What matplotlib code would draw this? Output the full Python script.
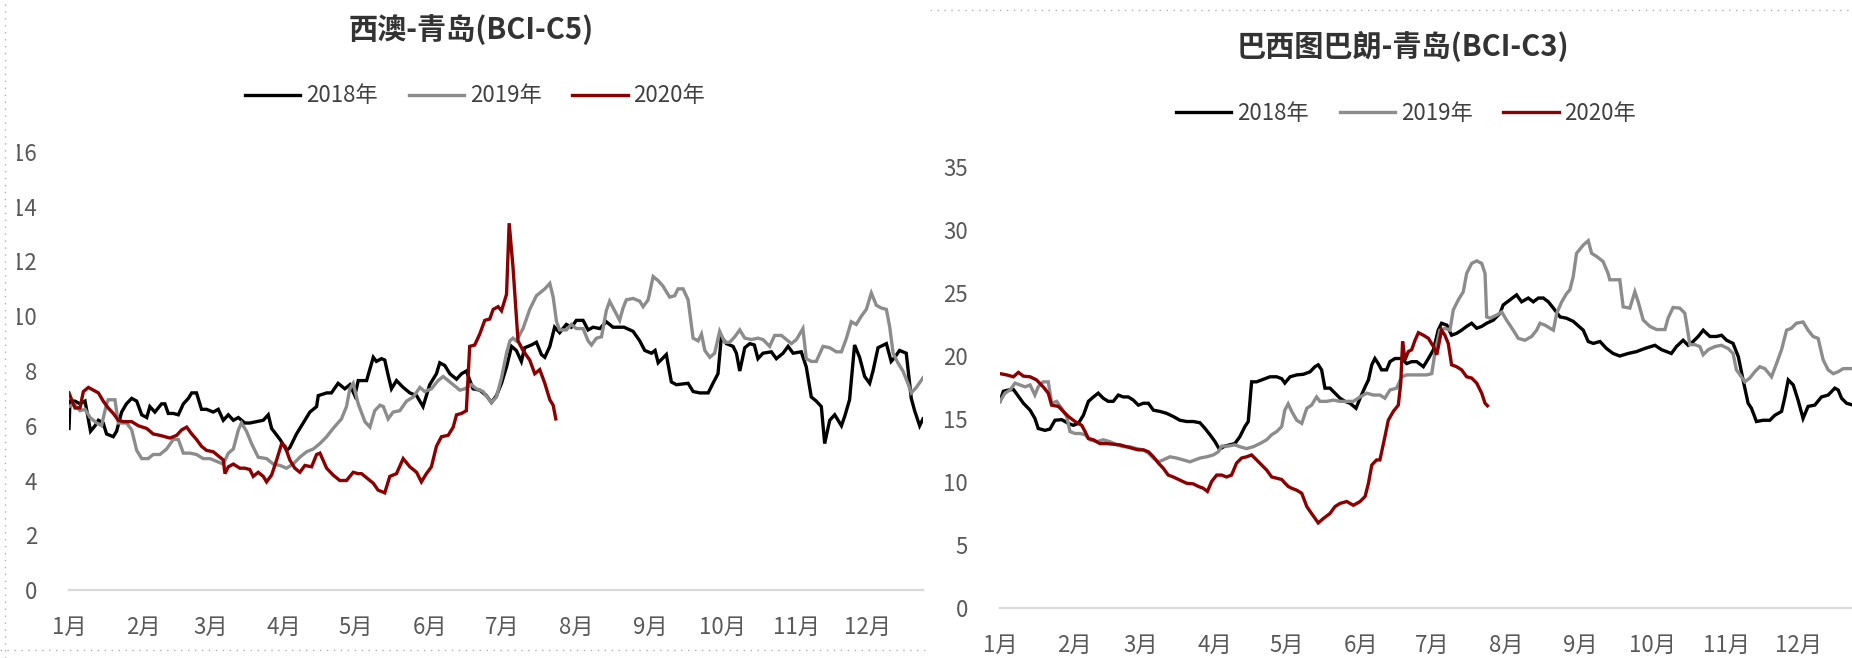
import matplotlib
matplotlib.use("Agg")
import matplotlib.pyplot as plt
from matplotlib.lines import Line2D
from matplotlib.patches import Rectangle

plt.rcParams['font.family'] = ['Noto Sans CJK SC', 'DejaVu Sans']

# x values are day of year (0 = 1 Jan)
month_days = [0, 31, 59, 90, 120, 151, 181, 212, 243, 273, 304, 334]
month_labels = ['1月', '2月', '3月', '4月', '5月', '6月', '7月', '8月', '9月', '10月', '11月', '12月']
series_names = ['2018年', '2019年', '2020年']
series_colors = ['#000000', '#8c8c8c', '#8b0000']

# 西澳-青岛 (BCI-C5)
c5_2018_x = [0, 0.4, 2.5, 4.6, 6.7, 9, 10.9, 12.3, 14.3, 15.7, 18.5, 19.9, 22, 24, 26.2, 28.3, 30.4, 32.5, 33.8, 35.9,
             38.7, 40.1, 41.5, 43.6, 45.7, 47.8, 49.9, 51.3, 53.3, 55.4, 57.5, 60.3, 62.4, 64.5, 66.6, 68.7, 70.8, 73.5,
             75.6, 78.4, 81.2, 83.3, 84.7, 88.2, 91, 92.3, 95.1, 97.9, 100.7, 103.5, 104.2, 107.7, 109.7, 112.5, 115.3,
             117.4, 119.5, 120.9, 124.4, 127.2, 128.5, 130.6, 132, 133.4, 134.8, 136.9, 139.7, 142.5, 145.3, 148,
             150.8, 153.6, 155, 157.1, 159.2, 162, 164.1, 166.1, 168.9, 171.7, 174.5, 176.6, 178.7, 180.8, 182.9, 185,
             187, 189.1, 190.5, 193.3, 195.4, 197.5, 198.9, 201, 203, 205.1, 207.9, 210, 212.1, 214.9, 217, 219.1,
             221.9, 224.6, 227.4, 232, 235.8, 238.6, 240.7, 243.5, 245, 246.3, 249.7, 251.8, 253.9, 258.8, 260.9,
             263.7, 267.2, 269.2, 271.3, 272.7, 274.8, 277.6, 279, 280.4, 282.5, 284.6, 286.5, 288, 290.1, 293.6,
             295.7, 298.5, 300.6, 302.7, 306.1, 308.2, 310.3, 312.4, 314.5, 315.9, 318, 320.1, 322.9, 324.3, 326.3,
             328.4, 330.5, 332.6, 334.7, 336.1, 338.2, 341.7, 343.7, 345.2, 347.2, 350, 352.1, 353.5, 355.6, 357]
c5_2018_y = [5.9, 6.9, 6.9, 6.8, 6.9, 5.8, 6.0, 6.2, 6.1, 5.7, 5.6, 5.8, 6.5, 6.8, 7.0, 6.9, 6.4, 6.3, 6.7, 6.5,
             6.8, 6.8, 6.45, 6.45, 6.4, 6.8, 7.0, 7.2, 7.2, 6.6, 6.6, 6.5, 6.6, 6.2, 6.4, 6.2, 6.3, 6.1,
             6.1, 6.15, 6.2, 6.4, 5.9, 5.5, 5.1, 5.2, 5.7, 6.1, 6.5, 6.7, 7.1, 7.2, 7.2, 7.55, 7.35,
             7.5, 7.1, 7.65, 7.65, 8.5, 8.35, 8.45, 8.4, 7.85, 7.35, 7.65, 7.4, 7.2, 7.1, 6.7,
             7.5, 7.9, 8.3, 8.2, 7.9, 7.7, 7.9, 8.0, 7.35, 7.3, 7.1, 6.85, 7.1, 7.55, 8.15, 8.9,
             8.75, 8.35, 8.85, 8.95, 9.05, 8.6, 8.5, 8.9, 9.6, 9.4, 9.7, 9.6, 9.85, 9.85, 9.5, 9.6,
             9.55, 9.8, 9.6, 9.6, 9.45, 9.1, 8.75, 8.65, 8.75, 8.3, 8.6, 7.6, 7.5, 7.55, 7.25,
             7.2, 7.2, 7.55, 7.9, 9.25, 9.0, 8.9, 8.65, 8.0, 8.85, 9.0, 8.95, 8.45, 8.65, 8.7,
             8.45, 8.65, 8.9, 8.65, 8.7, 8.15, 7.05, 6.9, 6.7, 5.35, 6.2, 6.4, 6.0, 6.35, 6.95,
             8.95, 8.5, 7.8, 7.55, 8.0, 8.85, 9.0, 8.35, 8.5, 8.75, 8.65, 7.0, 6.55, 6.0, 6.25]

c5_2019_x = [0, 2.1, 4.6, 6.7, 8.8, 11.6, 13.6, 15.7, 16.4, 19.2, 20.6, 24.1, 26.2, 28.3, 30.4, 33.1, 35.2, 38, 40.8,
             43.6, 45.7, 47.8, 50.6, 53.3, 56.1, 58.9, 61.7, 64.5, 66.6, 68.7, 70.8, 72.1, 74.2, 76.3, 79.1, 82.6,
             85.4, 88.2, 90.9, 93.7, 96.5, 99.3, 102.1, 104.9, 107.7, 110.4, 113.9, 116, 117.4, 118.8, 120.9, 123.7,
             125.8, 127.8, 130, 131.4, 133.4, 135.5, 138.3, 141.1, 143.9, 146.7, 148.7, 151.5, 154.3, 156.4, 158.5,
             160.6, 163.4, 165.5, 168.2, 170.3, 173.1, 176.6, 178.7, 180.8, 182.9, 184.3, 185.6, 187, 189.8, 192.6,
             195.4, 198.9, 201, 202.4, 203.8, 205.1, 207.9, 210, 212.1, 214.9, 217, 218.4, 220.5, 222.6, 224.6, 226,
             228.1, 230.2, 231.6, 233, 235.8, 238.6, 240, 242.1, 244.2, 246.3, 248.3, 251.1, 253.2, 254.6, 256.7,
             258.8, 260.9, 263, 264.4, 265.8, 267.9, 269.9, 272, 274.1, 276.2, 278.3, 280.4, 282.5, 285.3, 288,
             290.1, 292.9, 295, 297.8, 299.9, 302, 304.1, 306.8, 308.2, 310.3, 312.4, 315.2, 318, 320.8, 322.9, 325,
             327, 329.1, 331.2, 333.3, 335.4, 337.5, 339.6, 341.7, 343.1, 344.5, 346.5, 348.6, 350.7, 352.1, 354.2, 357]
c5_2019_y = [6.7, 6.8, 6.55, 6.6, 6.3, 6.1, 6.0, 6.8, 6.95, 6.95, 6.1, 6.1, 5.85, 5.1, 4.8, 4.8, 4.95, 4.95, 5.15,
             5.5, 5.5, 5.0, 5.0, 4.95, 4.8, 4.8, 4.7, 4.6, 5.0, 5.15, 5.85, 6.1, 5.8, 5.35, 4.85, 4.8,
             4.6, 4.55, 4.45, 4.6, 4.85, 5.05, 5.15, 5.35, 5.6, 5.9, 6.25, 6.7, 7.35, 7.55, 6.8, 6.15,
             5.95, 6.55, 6.75, 6.7, 6.25, 6.5, 6.55, 6.9, 7.05, 7.4, 7.25, 7.35, 7.65, 7.8, 7.65,
             7.5, 7.3, 7.35, 7.5, 7.35, 7.25, 6.85, 7.05, 7.75, 8.65, 9.1, 9.2, 9.1, 9.55, 10.25,
             10.75, 11.0, 11.2, 10.7, 9.8, 9.5, 9.5, 9.7, 9.55, 9.55, 9.1, 8.95, 9.2, 9.25, 10.2, 10.55,
             10.2, 9.85, 10.3, 10.6, 10.65, 10.55, 10.35, 10.6, 11.45, 11.3, 11.1, 10.7, 10.75, 11.0, 11.0,
             10.6, 9.2, 9.1, 9.35, 8.75, 8.5, 8.65, 9.45, 9.05, 9.05, 9.25, 9.5, 9.2, 9.15, 9.2,
             9.15, 8.9, 9.3, 9.3, 9.15, 9.0, 9.15, 9.55, 8.45, 8.35, 8.35, 8.9, 8.85, 8.7, 8.7, 9.2,
             9.8, 9.7, 10.0, 10.25, 10.85, 10.4, 10.3, 10.25, 9.6, 8.65, 8.3, 8.0, 7.55, 7.2, 7.4, 7.75]

c5_2020_x = [0, 1.1, 2.5, 4.6, 6, 8.1, 10.2, 12.3, 14.3, 16.4, 18.5, 20.6, 22.7, 26.2, 29, 32.5, 35.2, 38, 40.1, 42.2,
             45, 47.1, 49.2, 51.3, 53.3, 55.4, 57.5, 60.3, 63.1, 64.5, 65.2, 66.6, 68.7, 71.4, 73.5, 75.6, 77, 79.1,
             81.2, 82.6, 84.7, 86.8, 88.9, 90.3, 92.3, 94.4, 96.5, 98.6, 101.4, 103.5, 104.9, 107.7, 110.4, 113.2,
             116, 118.8, 120.9, 122.3, 125.1, 127.2, 129.2, 132, 134.1, 136.9, 139.7, 142.5, 145.3, 147.3, 149.4,
             151.5, 153.6, 155.7, 158.5, 160.6, 162, 164.1, 166.1, 167.5, 169.6, 171.7, 173.8, 175.9, 177.3, 179.4,
             180.8, 182.2, 182.9, 184, 185.6, 187.7, 189.8, 192.6, 194.7, 196.8, 198.9, 201, 202.4, 203.5]
c5_2020_y = [7.2, 6.95, 6.65, 6.65, 7.25, 7.4, 7.3, 7.2, 6.9, 6.65, 6.45, 6.2, 6.15, 6.15, 6.0, 5.9, 5.7, 5.65, 5.6, 5.55,
             5.65, 5.85, 5.95, 5.7, 5.5, 5.25, 5.1, 5.05, 4.85, 4.75, 4.25, 4.5, 4.6, 4.45, 4.45, 4.4, 4.15, 4.3,
             4.15, 3.95, 4.2, 4.75, 5.35, 5.25, 4.75, 4.45, 4.3, 4.55, 4.5, 4.95, 5.0, 4.45, 4.2, 4.0,
             4.0, 4.3, 4.25, 4.25, 4.05, 3.9, 3.65, 3.55, 4.15, 4.25, 4.8, 4.5, 4.3, 3.95, 4.25,
             4.5, 5.25, 5.6, 5.65, 5.95, 6.4, 6.45, 6.55, 8.9, 8.95, 9.35, 9.85, 9.9, 10.25, 10.35,
             10.2, 10.6, 10.8, 13.4, 11.8, 9.1, 8.75, 8.4, 7.9, 8.05, 7.55, 6.95, 6.75, 6.25]

# 巴西图巴朗-青岛 (BCI-C3)
c3_2018_x = [0, 1.4, 3.5, 5.6, 7.7, 9.8, 12.6, 14.6, 16, 18.8, 20.9, 23, 25.8, 28.6, 30.7, 32.8, 34.9, 37, 39.1, 41.1,
             43.2, 45.3, 47.4, 49.5, 51.6, 53.7, 55.8, 57.9, 60, 62.1, 64.2, 67, 69.7, 72.5, 75.3, 78.1, 80.9, 83.7,
             85.8, 87.9, 90, 91.8, 94.1, 96.2, 98.3, 100.4, 102.5, 103.9, 105.3, 107.4, 110.2, 113, 115.8, 117.9,
             119.2, 121.4, 124.2, 127, 129.8, 131.8, 133.2, 134.6, 136, 138.1, 140.2, 142.3, 144.4, 146.5, 149,
             150.7, 152.8, 154.2, 155.6, 156.9, 158.3, 159.7, 161.8, 163.2, 165.3, 168.1, 170.2, 172.3, 174.4, 177.2,
             179.3, 181.4, 183.4, 184.8, 187, 189, 191.1, 193.2, 195.3, 197.4, 199.5, 201.6, 203.7, 206.5, 209.3,
             210.6, 213.4, 216.2, 218.3, 221.1, 223.2, 225.3, 227.4, 229.5, 231.6, 234.4, 237.1, 239.9, 242, 244.1,
             246.2, 248.3, 251.1, 253.8, 256.6, 259.4, 262.9, 266.4, 269.9, 274.1, 276.9, 278.9, 281, 283.1, 285.9,
             288, 290.1, 292.2, 294.3, 295.7, 297.1, 299.9, 302, 304.1, 306.8, 309, 311, 313.1, 314.5, 316.6, 319.4,
             322.2, 324.3, 327.1, 328.5, 329.9, 332, 334, 336.1, 338.2, 341, 343.8, 346.6, 349.4, 350.8, 352.2,
             354.3, 357]
c3_2018_y = [16.4, 17.2, 17.3, 17.35, 16.8, 16.25, 15.7, 15.05, 14.25, 14.1, 14.2, 14.9, 14.95, 14.65, 14.5, 14.65,
             15.3, 16.4, 16.75, 17.05, 16.65, 16.4, 16.4, 16.9, 16.75, 16.75, 16.5, 16.1, 16.25, 16.25, 15.7, 15.6,
             15.45, 15.2, 14.9, 14.8, 14.8, 14.7, 14.25, 13.75, 13.2, 12.6, 12.85, 12.95, 13.05, 13.6, 14.4, 14.8,
             17.95, 17.95, 18.15, 18.35, 18.35, 18.2, 17.85, 18.35, 18.5, 18.55, 18.75, 19.15, 19.3, 18.9, 17.45,
             17.45, 17.05, 16.65, 16.4, 16.25, 15.85, 16.65, 17.55, 18.1, 19.3, 19.8, 19.4, 18.9, 18.9, 19.55, 19.8,
             19.8, 19.4, 19.55, 19.55, 19.15, 19.8, 20.5, 22.05, 22.6, 22.45, 21.65, 21.8, 22.05, 22.35, 22.6, 22.2,
             22.35, 22.6, 22.85, 23.4, 24.05, 24.45, 24.85, 24.3, 24.6, 24.3, 24.6, 24.6, 24.3, 23.8, 23.1, 23.0,
             22.75, 22.4, 22.05, 21.15, 21.0, 21.15, 20.6, 20.2, 20.0, 20.2, 20.35, 20.6, 20.85, 20.5, 20.35, 20.2,
             20.75, 21.25, 20.85, 21.15, 21.55, 22.05, 21.8, 21.55, 21.55, 21.65, 21.25, 21.0, 19.95, 18.1, 16.25,
             15.85, 14.8, 14.9, 14.9, 15.3, 15.6, 16.75, 18.1, 17.7, 16.5, 15.05, 16.0, 16.1, 16.75, 16.9, 17.45,
             17.3, 16.65, 16.25, 16.1]

c3_2019_x = [0, 2.1, 4.2, 6.3, 8.4, 10.5, 12.6, 14.6, 16, 18.1, 20.2, 21.6, 23.7, 25.8, 27.9, 29.3, 31.4, 33.5, 35.6,
             37.7, 40.5, 43.2, 46, 48.8, 51.6, 54.4, 57.2, 60, 62.1, 64.2, 66.3, 68.3, 71.1, 73.9, 76.7, 79.5, 81.6,
             83.7, 86.5, 89.3, 91.4, 92.8, 95.5, 98.3, 100.4, 103.2, 106, 108.8, 111.6, 113.7, 115.8, 117.9, 119.2,
             120.6, 122.1, 124.2, 126.3, 128.4, 130.4, 132.5, 133.9, 136.7, 139.5, 142.3, 145.1, 147.9, 150.7, 153.5,
             156.3, 159, 161.1, 163.2, 166, 168.1, 170.2, 173, 175.8, 178.6, 180.7, 182.1, 184.1, 186.2, 188.3,
             189.7, 191.8, 193.9, 195.3, 197.4, 199.5, 201.6, 203, 203.7, 205.1, 207.9, 210, 212, 214.8, 216.9,
             219.7, 222.5, 224.6, 226, 228.1, 230.2, 231.6, 233, 235.1, 237.1, 238.5, 239.9, 241.3, 244.1, 246.2,
             247.6, 249.7, 252.4, 254.5, 255.2, 259.4, 260.8, 263.6, 265.7, 267.1, 269.2, 272, 274.8, 278.3, 279.6,
             281.7, 284.5, 286.6, 288, 288.7, 290.8, 292.9, 294.3, 296.4, 299.2, 301.9, 304.7, 306.8, 308.2, 310.3,
             311.7, 313.8, 315.9, 318, 320.1, 322.9, 325, 327.1, 329.2, 331.2, 333.3, 336.1, 338.2, 340.3, 342.4,
             344.5, 346.6, 348.7, 350.8, 352.9, 357]
c3_2019_y = [16.4, 17.05, 17.3, 17.85, 17.7, 17.55, 17.7, 16.9, 17.55, 17.95, 17.95, 16.25, 16.4, 15.85, 15.2, 14.0,
             13.85, 13.85, 13.75, 13.35, 13.2, 13.35, 13.2, 12.95, 12.8, 12.8, 12.65, 12.55, 12.3, 11.9, 11.6, 11.75,
             12.0, 11.9, 11.75, 11.6, 11.75, 11.9, 12.0, 12.15, 12.4, 12.85, 12.85, 12.95, 12.8, 12.65, 12.8, 13.05,
             13.35, 13.75, 14.0, 14.4, 15.7, 16.2, 15.6, 14.9, 14.65, 15.85, 16.1, 16.75, 16.4, 16.4, 16.5, 16.4,
             16.4, 16.4, 16.75, 17.05, 16.9, 16.9, 16.65, 17.3, 17.45, 18.35, 18.5, 18.5, 18.5, 18.5, 18.6, 20.35,
             22.05, 22.2, 22.05, 23.65, 24.45, 25.1, 26.55, 27.35, 27.55, 27.35, 26.55, 23.1, 23.0, 23.25, 23.5,
             22.85, 22.05, 21.4, 21.25, 21.55, 22.05, 22.6, 22.45, 22.2, 22.05, 23.4, 24.3, 24.95, 25.25, 26.3,
             28.15, 28.8, 29.15, 28.15, 27.9, 27.5, 26.55, 26.05, 26.05, 23.9, 23.8, 25.1, 24.3, 22.85, 22.35, 22.1,
             22.1, 23.0, 23.85, 23.8, 23.4, 21.8, 20.9, 20.9, 20.75, 20.1, 20.5, 20.75, 20.85, 20.6, 20.2, 18.9,
             18.35, 17.95, 18.25, 18.75, 19.15, 19.0, 18.35, 19.4, 20.5, 22.05, 22.2, 22.6, 22.7, 22.05, 21.55, 21.4,
             19.7, 18.9, 18.6, 18.75, 19.0, 19.0]

c3_2020_x = [0, 2.8, 5.6, 7.7, 9.8, 12.6, 15.3, 18.1, 20.2, 21.6, 24.4, 26.5, 28.6, 31.4, 34.2, 35.6, 37, 39.1, 41.8,
             44.6, 47.4, 50.2, 53, 55.8, 57.9, 60, 62.1, 64.2, 66.3, 68.3, 70.4, 72.5, 75.3, 78.1, 80.9, 83, 85.1,
             86.8, 88.6, 90.7, 92.8, 94.8, 96.9, 99, 101.1, 103.2, 105.3, 107.4, 109.5, 111.6, 113.7, 115.8, 117.9,
             119.3, 120.6, 122.1, 124.2, 126.3, 128.4, 130.4, 133.2, 135.3, 138.1, 140.2, 142.3, 145.1, 147.9, 150.7,
             152.8, 154.2, 155.6, 157.6, 159, 161.1, 162.5, 164.6, 166.7, 167.7, 168.5, 169.5, 170.9, 172.3, 173.7,
             175.1, 177.2, 179.3, 181.4, 182.8, 184.8, 186.2, 187.6, 189, 191.1, 193.2, 195.3, 197.4, 199.5, 201.6,
             203, 204]
c3_2020_y = [18.6, 18.5, 18.35, 18.7, 18.4, 18.35, 18.1, 17.55, 17.05, 16.1, 16.0, 15.6, 15.2, 14.8, 14.5, 14.0,
             13.45, 13.35, 13.05, 13.05, 13.0, 12.95, 12.8, 12.65, 12.55, 12.55, 12.4, 12.0, 11.5, 11.1, 10.55, 10.4,
             10.15, 9.9, 9.85, 9.65, 9.5, 9.25, 10.05, 10.55, 10.55, 10.4, 10.55, 11.5, 11.9, 12.0, 12.15, 11.75,
             11.35, 10.95, 10.4, 10.3, 10.2, 9.9, 9.65, 9.5, 9.35, 9.1, 8.05, 7.5, 6.75, 7.1, 7.5, 8.05, 8.3, 8.45,
             8.15, 8.45, 8.85, 9.9, 11.35, 11.75, 11.75, 13.6, 14.9, 15.6, 16.1, 17.8, 21.15, 19.7, 20.35, 20.5,
             21.25, 21.85, 21.65, 21.4, 20.75, 20.1, 22.05, 21.65, 21.0, 19.3, 19.15, 18.9, 18.35, 18.25, 17.85,
             17.05, 16.25, 16.05]

W, H = 1852, 658
fig = plt.figure(figsize=(W / 100, H / 100), dpi=100)


def px_box(x0, x1, y_top, y_bot):
    # pixel box -> figure fraction [left, bottom, width, height]
    return [x0 / W, 1 - y_bot / H, (x1 - x0) / W, (y_bot - y_top) / H]


def draw_panel(box, series, ymax, ystep, title, title_xy, legend_xy):
    ax = fig.add_axes(box)
    for (xs, ys), name, color in zip(series, series_names, series_colors):
        ax.plot(xs, ys, color=color, lw=2.4, label=name, solid_joinstyle='miter')
    ax.set_xlim(0, 357)
    ax.set_ylim(0, ymax)
    ax.set_yticks(range(0, ymax + 1, ystep))
    ax.set_xticks(month_days)
    ax.set_xticklabels(month_labels)
    for s in ['top', 'right', 'left']:
        ax.spines[s].set_visible(False)
    ax.spines['bottom'].set_color('#d9d9d9')
    ax.spines['bottom'].set_linewidth(1.6)
    ax.tick_params(axis='both', length=0, labelsize=16, colors='#595959')
    ax.tick_params(axis='y', pad=23)
    ax.tick_params(axis='x', pad=19)
    fig.text(title_xy[0] / W, 1 - title_xy[1] / H, title, ha='center', va='center',
             fontsize=21, fontweight='bold', color='#333333')
    ax.legend(loc='center', bbox_to_anchor=(legend_xy[0] / W, 1 - legend_xy[1] / H),
              bbox_transform=fig.transFigure, ncol=3, frameon=False, fontsize=16,
              handlelength=2.5, handletextpad=0.25, columnspacing=1.4, labelcolor='#404040')
    return ax


draw_panel(px_box(69, 923, 152, 590),
           [(c5_2018_x, c5_2018_y), (c5_2019_x, c5_2019_y), (c5_2020_x, c5_2020_y)],
           16, 2, '西澳-青岛(BCI-C5)', (471, 30), (475, 96))
draw_panel(px_box(1000, 1853, 167, 608),
           [(c3_2018_x, c3_2018_y), (c3_2019_x, c3_2019_y), (c3_2020_x, c3_2020_y)],
           35, 5, '巴西图巴朗-青岛(BCI-C3)', (1403, 47), (1406, 113))

# the screenshot cuts the left edge of the first chart
fig.add_artist(Rectangle((0, 0), 17 / W, 1, transform=fig.transFigure,
                         facecolor='white', edgecolor='none', zorder=5))
# dotted cell borders visible in the screenshot
dot = dict(transform=fig.transFigure, color='#b0b0b0', lw=1, ls=(0, (1, 4)), zorder=6)
fig.add_artist(Line2D([5 / W, 5 / W], [0, 1], **dot))
fig.add_artist(Line2D([0, 926 / W], [1 - 650 / H, 1 - 650 / H], **dot))
fig.add_artist(Line2D([930 / W, 1], [1 - 10 / H, 1 - 10 / H], **dot))

fig.savefig('out.png', dpi=100, facecolor='white')
